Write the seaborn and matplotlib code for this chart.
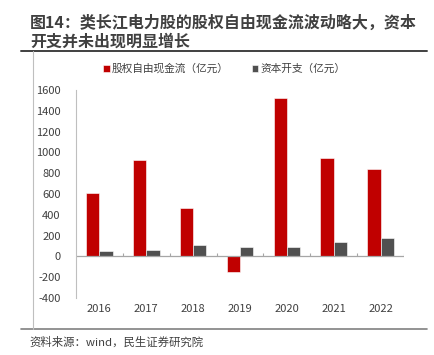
import seaborn as sns
import matplotlib.pyplot as plt
import matplotlib.lines as mlines
import pandas as pd

years = ["2016", "2017", "2018", "2019", "2020", "2021", "2022"]
fcfe = [610, 925, 465, -150, 1520, 945, 845]
capex = [50, 58, 105, 95, 95, 143, 175]
series_names = ["股权自由现金流（亿元）", "资本开支（亿元）"]

df = pd.DataFrame({
    "year": years * 2,
    "value": fcfe + capex,
    "series": [series_names[0]] * len(years) + [series_names[1]] * len(years),
})

sns.set_style("white")
plt.rcParams["font.family"] = ["Noto Sans CJK SC", "DejaVu Sans"]
plt.rcParams["axes.unicode_minus"] = False

fig = plt.figure(figsize=(4.34, 3.55), dpi=100)
ax = fig.add_axes([0.175, 0.1606, 0.756, 0.5859])

sns.barplot(data=df, x="year", y="value", hue="series",
            palette=["#C00000", "#505050"], width=0.57, saturation=1,
            edgecolor="white", linewidth=0.4, ax=ax)

ax.set_ylim(-400, 1600)
ax.set_yticks(range(-400, 1601, 200))
ax.set_xlim(-0.5, 6.5)
ax.set_xlabel("")
ax.set_ylabel("")
for s in ["top", "right", "bottom"]:
    ax.spines[s].set_visible(False)
ax.spines["left"].set_color("#BFBFBF")
ax.spines["left"].set_linewidth(0.8)
ax.tick_params(axis="y", length=3, width=0.6, color="#BFBFBF",
               labelsize=8, labelcolor="#404040", pad=8)
ax.tick_params(axis="x", length=0, labelsize=8, labelcolor="#404040", pad=4)

# zero line with category boundary ticks
ax.axhline(0, color="#A6A6A6", lw=0.9)
ax.vlines([i + 0.5 for i in range(len(years))], 0, 30, color="#A6A6A6", lw=0.8)

handles, labels = ax.get_legend_handles_labels()
ax.get_legend().remove()
fig.legend(handles, labels, loc="center", bbox_to_anchor=(0.517, 0.806),
           ncol=2, frameon=False, fontsize=7.7, handlelength=0.6,
           handleheight=0.6, handletextpad=0.2, columnspacing=2.2,
           labelcolor="#404040")

fig.text(0.069, 0.935, "图14：类长江电力股的股权自由现金流波动略大，资本",
         fontsize=11.5, fontweight="bold", color="#404040", va="center")
fig.text(0.069, 0.882, "开支并未出现明显增长",
         fontsize=11.5, fontweight="bold", color="#404040", va="center")
fig.text(0.069, 0.037, "资料来源：wind，民生证券研究院",
         fontsize=8.2, color="#404040", va="center")

fig.add_artist(mlines.Line2D([0.048, 0.984], [0.856, 0.856],
                             color="#404040", lw=1.4))
fig.add_artist(mlines.Line2D([0.048, 0.984], [0.073, 0.073],
                             color="#808080", lw=1.2))
fig.add_artist(mlines.Line2D([0.076, 0.076], [0.073, 0.856],
                             color="#BFBFBF", lw=0.8))

fig.savefig("out.png", dpi=100)
